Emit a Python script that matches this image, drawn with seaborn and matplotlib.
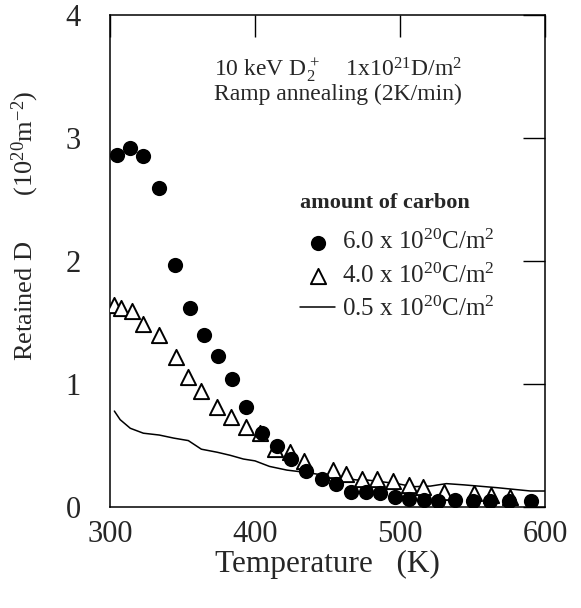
import matplotlib
matplotlib.use("Agg")
import matplotlib.pyplot as plt
import seaborn as sns
import pandas as pd

# ---- data ----
temp_c60 = [305, 314, 323, 334, 345, 355, 365, 374.5, 384, 394, 404.5, 415.5, 425,
            435.5, 446, 456, 466, 476.5, 486, 496.5, 506, 516.5, 526.5, 538, 550,
            562, 575, 590.5]
d_c60 = [2.86, 2.92, 2.85, 2.59, 1.97, 1.62, 1.40, 1.23, 1.04, 0.81, 0.60, 0.50, 0.39,
         0.29, 0.23, 0.19, 0.125, 0.125, 0.11, 0.08, 0.065, 0.055, 0.05, 0.055, 0.05,
         0.05, 0.05, 0.05]

temp_c40 = [302.5, 307.5, 315, 322.5, 334, 345.5, 353.5, 363, 373.5, 383.5, 393.5,
            403.5, 413.5, 424, 433.5, 454, 463, 474, 484, 495, 506, 516, 530, 551,
            563, 576]
d_c40 = [1.64, 1.62, 1.59, 1.49, 1.40, 1.22, 1.06, 0.94, 0.81, 0.73, 0.65, 0.60, 0.47,
         0.45, 0.37, 0.30, 0.27, 0.23, 0.23, 0.21, 0.18, 0.165, 0.125, 0.11, 0.10, 0.085]

temp_c05 = [303, 307, 314, 323, 334, 344, 354, 363, 374, 383, 392, 400, 410, 422, 436,
            452, 470, 477, 498, 509, 521, 532, 544, 567, 590, 600]
d_c05 = [0.78, 0.71, 0.64, 0.60, 0.585, 0.56, 0.54, 0.47, 0.445, 0.42, 0.39, 0.375,
         0.33, 0.30, 0.28, 0.25, 0.22, 0.22, 0.19, 0.165, 0.17, 0.19, 0.18, 0.157,
         0.13, 0.13]

label_c60 = "6.0 x 10$^{20}$C/m$^2$"
label_c40 = "4.0 x 10$^{20}$C/m$^2$"
label_c05 = "0.5 x 10$^{20}$C/m$^2$"
legend_title = "amount of carbon"

x_ticks = [300, 400, 500, 600]
y_ticks = [0, 1, 2, 3, 4]

sns.set_theme(style="white")
plt.rcParams["font.family"] = ["Liberation Serif", "DejaVu Serif"]
plt.rcParams["mathtext.fontset"] = "custom"
plt.rcParams["mathtext.rm"] = "Liberation Serif"
plt.rcParams["mathtext.default"] = "regular"

fig = plt.figure(figsize=(5.81, 6.08), dpi=100)
ax = fig.add_axes([110 / 581, 101 / 608, 435 / 581, 492 / 608])

df60 = pd.DataFrame({"T": temp_c60, "D": d_c60})
df40 = pd.DataFrame({"T": temp_c40, "D": d_c40})
df05 = pd.DataFrame({"T": temp_c05, "D": d_c05})

sns.lineplot(data=df05, x="T", y="D", ax=ax, color="black", lw=1.1,
             estimator=None, sort=False, label=label_c05, zorder=2)
sns.scatterplot(data=df40, x="T", y="D", ax=ax, marker="^", s=120,
                facecolor="white", edgecolor="black", linewidth=1.4,
                label=label_c40, zorder=3)
sns.scatterplot(data=df60, x="T", y="D", ax=ax, marker="o", s=120,
                color="black", edgecolor="black", linewidth=0,
                label=label_c60, zorder=4)

ax.set_xlim(300, 600)
ax.set_ylim(0, 4)
ax.set_xticks(x_ticks)
ax.set_yticks(y_ticks)
ax.tick_params(axis="both", direction="in", length=16, width=1.0, color="black",
               labelsize=22, top=True, right=True)
ax.tick_params(axis="x", pad=9)
ax.tick_params(axis="y", pad=21)
for sp in ax.spines.values():
    sp.set_color("black")
    sp.set_linewidth(1.1)

ax.set_xlabel("Temperature   (K)", fontsize=22.5)
ax.xaxis.set_label_coords(0.5, -0.088)
ax.set_ylabel("Retained D       (10$^{20}$m$^{-2}$)", fontsize=19)
ax.yaxis.set_label_coords(-0.158, 0.571)

ax.text(457, 3.50, "10 keV D$_2^+$    1x10$^{21}$D/m$^2$", fontsize=17,
        ha="center", va="baseline")
ax.text(457, 3.31, "Ramp annealing (2K/min)", fontsize=17,
        ha="center", va="baseline")
ax.text(431, 2.43, legend_title, fontsize=16, fontweight="bold",
        ha="left", va="baseline")

h, l = ax.get_legend_handles_labels()
order = [l.index(label_c60), l.index(label_c40), l.index(label_c05)]
leg = ax.legend([h[i] for i in order], [l[i] for i in order],
                loc="upper left", bbox_to_anchor=((300 - 110) / 435, (507 - 230) / 492),
                frameon=False, fontsize=18,
                borderpad=0, borderaxespad=0,
                handlelength=1.4, handletextpad=0.3, labelspacing=0.36)

fig.savefig("out.png", dpi=100, facecolor="white")
